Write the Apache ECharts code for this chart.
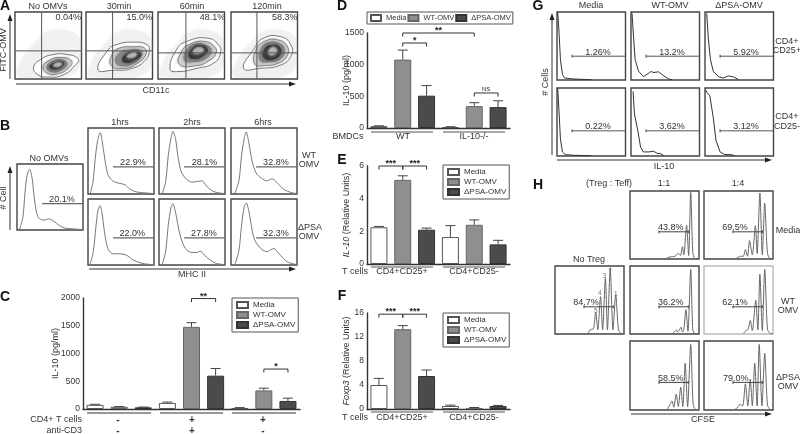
<!DOCTYPE html>
<html><head><meta charset="utf-8"><style>html,body{margin:0;padding:0;background:#fff}#c{width:800px;height:434px}</style>
<script src="https://cdn.jsdelivr.net/npm/echarts@6/dist/echarts.min.js"></script></head>
<body><div id="c"></div><script>
// ---------- bar data ----------
const seriesNames=['Media','WT-OMV','ΔPSA-OMV'];
const cCats=['a1','a2','a3','b1','b2','b3','c1','c2','c3'];
const cVals=[75,40,30,110,1480,600,15,335,145];
const cErr=[85,45,35,125,1555,730,25,375,195];
const dCats=['m1','w1','p1','m2','w2','p2'];
const dVals=[30,1080,510,15,345,330];
const dErr=[35,1230,670,20,400,430];
const eVals=[2.25,5.15,2.1,1.65,2.4,1.2];
const eErr=[2.3,5.4,2.2,2.35,2.7,1.45];
const fVals=[4.0,13.3,5.5,0.5,0.15,0.5];
const fErr=[5.1,13.9,6.5,0.65,0.25,0.6];
// ---------- histograms, panel B ----------
const bNone=[[4,1],[9,20],[12,55],[15,82],[19,92],[23,78],[26,50],[30,25],[34,17],[42,15],[48,17],[56,13],[64,7],[72,3],[82,2],[100,.5]];
const b1a=[[3.5,1],[7.5,18],[11,54],[14.6,81],[18.6,93],[21.6,79],[24.6,59],[29.6,31],[36,21],[44,17],[56,14],[64,7],[74,3],[89,1.5],[100,.5]];
const b2a=[[5,1],[10,18],[14,58],[18,84],[21,95],[25,84],[29,55],[34,33],[42,22],[50,18],[58,19],[65,20],[72,12],[82,4],[92,1.5],[100,.5]];
const b6a=[[6,1],[12,20],[16,58],[20,84],[23,94],[27,78],[32,50],[38,32],[46,24],[54,20],[62,23],[70,17],[80,7],[92,2],[100,.5]];
const b1b=[[3,1],[8,20],[12,58],[15,82],[18,90],[21,80],[25,50],[30,25],[38,17],[48,17],[58,15],[68,8],[80,3],[92,1],[100,.5]];
const b2b=[[5,1],[10,20],[14,60],[18,86],[21,93],[25,80],[32,45],[40,25],[50,19],[58,19],[62,21],[72,12],[85,3],[100,.5]];
const b6b=[[6,1],[12,22],[16,60],[20,88],[23,94],[27,82],[35,40],[45,25],[55,20],[60,23],[65,25],[72,18],[85,5],[100,.5]];
// ---------- histograms, panel G ----------
const gMediaA=[[1,100],[3,70],[5,30],[8,8],[11,3],[23,1.5],[50,.5]];
const gWtA=[[1.5,98],[4,59],[6,30],[11,13],[18,5],[26,10],[29,12.5],[33,11],[40,12],[48,6],[55,1.5],[60,.5]];
const gPsaA=[[2.5,98],[5,59],[8,30],[12,13],[20,4.5],[27,3],[34,6],[42,4.5],[49,.5]];
const gMediaB=[[1,100],[3,65],[5,25],[8,6],[12,2],[25,1],[50,.5]];
const gWtB=[[3,95],[5,62],[7.5,60],[10,37],[14,13],[18,6],[26,6],[33,7],[38,4],[43,3.5],[48,.5]];
const gPsaB=[[1,97],[3,93],[7,89],[12,57],[16,23],[22,6],[29,2],[39,2],[44,0]];
// ---------- histograms, panel H ----------
const hNone=[[48,1],[51,6],[54,7],[56,8],[59,32],[62,6],[66,55],[69,6],[73,82],[76,6],[80,97],[84,6],[88,58],[92,6],[96,.8],[100,.3]];
const hM1=[[53,1],[58,3],[65,4],[70,8],[73,5],[76,18],[78,6],[82,50],[85,5],[88,98],[91,10],[94,1],[100,.5]];
const hM4=[[47,1],[53,4],[57,4],[60,14],[63,4],[66,27],[70,6],[74.5,49],[77,8],[81,97],[84.5,6],[88,82],[92,8],[96,.5],[100,.3]];
const hW1=[[62,1],[65,4],[67,6],[69,3],[71,5],[74,10],[76,3],[78,6],[81,36],[84,4],[88,95],[91,6],[94,.8],[100,.3]];
const hW4=[[57,1],[61,5],[64,7],[67,20],[70,5],[75,50],[78,6],[81,88],[84.5,5],[88,95],[92,7],[96,.8],[100,.3]];
const hP1=[[54,1],[58,8],[61,13],[63.5,4],[67,23],[70,5],[73.5,33],[76.5,5],[80,68],[83.5,5],[88,95],[91.5,8],[95,.8],[100,.3]];
const hP4=[[45,1],[49,4],[52,8],[56,6],[60,38],[63.5,6],[67,45],[70,6],[73.5,68],[77,6],[80,95],[84,6],[88,82],[92,7],[96,.8],[100,.3]];
// ---------- contour rings, panel A ----------
const a1Rings=[[[28,18],[40,30],[55,36],[75,37],[95,30],[90,20],[72,6],[50,3],[35,6]],[[42,18],[52,28],[68,32],[85,27],[80,16],[65,8],[50,8]],[[48,18],[58,27],[72,28],[78,22],[68,13],[55,11]],[[52,18],[62,25],[72,25],[72,20],[62,15]],[[58,20],[64,24],[70,23],[66,19]]];
const a2Rings=[[[18,14],[33,43],[45,51],[70,55],[92,51],[95,41],[90,29],[70,16],[40,13]],[[38,20],[40,38],[50,46],[70,48],[88,46],[90,36],[78,24],[60,16]],[[45,25],[50,38],[65,43],[82,42],[82,33],[70,23],[55,20]],[[55,28],[62,38],[75,40],[82,36],[72,28],[62,25]],[[62,33],[68,38],[76,38],[72,33]]];
const a3Rings=[[[18,15],[28,44],[43,56],[74,61],[91,51],[94,39],[84,24],[59,16],[28,11]],[[32,22],[36,42],[48,52],[70,56],[85,48],[87,38],[76,27],[58,20]],[[40,28],[44,44],[56,52],[72,50],[80,42],[70,30],[52,26]],[[47,34],[52,46],[64,50],[74,44],[66,34],[54,31]],[[53,40],[58,46],[66,46],[68,42],[60,38]]];
const a4Rings=[[[19,16],[34,44],[49,61],[75,63],[90,51],[90,34],[75,21],[44,16]],[[36,22],[37,42],[50,56],[72,58],[85,48],[84,34],[72,24],[50,20]],[[44,28],[46,46],[56,54],[72,53],[80,44],[74,30],[56,26]],[[50,32],[52,46],[62,50],[72,48],[74,38],[64,30]],[[57,38],[60,46],[67,46],[68,40],[62,36]]];
const ringHaze=[[5,3],[10,30],[30,55],[50,72],[80,72],[99,58],[99,25],[85,6],[50,1]];

// ---------- builders ----------
const FONT='"Liberation Sans",Arial,sans-serif', INK='#333';
const grid=[],xAxis=[],yAxis=[],series=[],legend=[],graphic=[];
function addGrid(rect,xa,ya,bordered,bc){
  const i=grid.length;
  grid.push(Object.assign({containLabel:false,show:!!bordered,borderColor:bc||'#444',borderWidth:bordered?1.4:0,backgroundColor:'#fff'},rect));
  xAxis.push(Object.assign({gridIndex:i},xa));yAxis.push(Object.assign({gridIndex:i},ya));return i;
}
const hiddenV={type:'value',min:0,max:100,show:false};
function flowPanel(rect,opt){
  const i=addGrid(rect,hiddenV,hiddenV,true,opt.border);
  if(opt.rings)ringSeries(i,opt.rings);
  if(opt.curve)series.push({type:'line',xAxisIndex:i,yAxisIndex:i,data:opt.curve,showSymbol:false,smooth:opt.smooth||0,
    lineStyle:{color:opt.color||'#777',width:opt.lw||1},silent:true,z:3});
  if(opt.quad){const q=opt.quad;
    series.push({type:'line',xAxisIndex:i,yAxisIndex:i,data:[[q[0],0],[q[0],100]],showSymbol:false,lineStyle:{color:'#555',width:1},silent:true,z:4});
    series.push({type:'line',xAxisIndex:i,yAxisIndex:i,data:[[0,q[1]],[100,q[1]]],showSymbol:false,lineStyle:{color:'#555',width:1},silent:true,z:4});}
  const notes=(opt.notes||[]).concat(opt.label?[[opt.label[1],opt.label[2],opt.label[0],opt.labelColor]]:[]);
  if(opt.gate||notes.length){
    const g=opt.gate;
    series.push({type:'custom',xAxisIndex:i,yAxisIndex:i,data:[[0,0]],silent:true,z:5,coordinateSystem:'cartesian2d',
      renderItem(p,api){
        const ch=[];
        if(g){const a=api.coord([g[0],g[2]]),b=api.coord([g[1],g[2]]);
          ch.push({type:'line',shape:{x1:a[0],y1:a[1],x2:b[0],y2:b[1]},style:{stroke:opt.gateColor||'#666',lineWidth:opt.gateWidth||1.2}});
          if(opt.gateTicks){[a,b].forEach(e=>ch.push({type:'line',shape:{x1:e[0],y1:e[1]-1.5,x2:e[0],y2:e[1]+1.5},style:{stroke:'#444',lineWidth:1}}));}
          if(opt.gateText){const t=api.coord([opt.gateText[1],g[2]]);
            ch.push({type:'text',style:{text:opt.gateText[0],x:t[0],y:t[1]-4,align:'center',verticalAlign:'middle',font:'9px '+FONT,fill:INK}});}
        }
        notes.forEach(n=>{const t=api.coord([n[0],n[1]]);
          ch.push({type:'text',style:{text:n[2],x:t[0],y:t[1],align:'center',verticalAlign:'middle',font:n[3]?('6.5px '+FONT):('9px '+FONT),fill:n[3]||INK}});});
        return {type:'group',children:ch};
      }});
  }
  return i;
}
function ringSeries(i,rings){
  const fills=['#fff','#cfcfcf','#8a8a8a','#3a3a3a','#b4b4b4'];
  const strokes=['#666','#777','#777','#333','#999'];
  const draw=(ring,style,z)=>series.push({type:'custom',xAxisIndex:i,yAxisIndex:i,data:ring,clip:true,silent:true,z,
    renderItem(p,api){ if(p.dataIndex!==0)return null;
      return {type:'polygon',shape:{points:ring.map(r=>api.coord(r)),smooth:0.5},style};}});
  draw(ringHaze,{fill:'rgba(170,170,170,.13)',shadowBlur:6,shadowColor:'rgba(150,150,150,.3)'},1);
  rings.forEach((r,k)=>draw(r,{fill:fills[k],stroke:strokes[k],lineWidth:.9,shadowBlur:k>0?3:0,shadowColor:fills[k]},2+k*0.1));
}
function barPanel(rect,cats,vals,errs,ya,brackets,nameTxt,gap){
  const i=addGrid(rect,{type:'category',data:cats,axisTick:{show:false},axisLabel:{show:false},
      axisLine:{lineStyle:{color:'#333',width:1.4}}},
    Object.assign({type:'value',min:0,axisTick:{length:3,lineStyle:{color:'#333',width:1.2}},
      axisLine:{show:true,lineStyle:{color:'#333',width:1.4}},splitLine:{show:false},
      axisLabel:{fontFamily:FONT,fontSize:8.5,color:INK,margin:3,formatter:v=>String(v)},
      name:nameTxt,nameLocation:'middle',nameRotate:90,nameGap:gap,nameMoveOverlap:false,
      nameTextStyle:{fontFamily:FONT,fontSize:9,color:INK,rich:{i:{fontStyle:'italic',fontFamily:FONT,fontSize:9,color:INK},n:{fontFamily:FONT,fontSize:9,color:INK}}}},ya));
  const colors=[['#fff','#555'],['#8f8f8f','#666'],['#4b4b4b','#333']];
  seriesNames.forEach((n,k)=>series.push({type:'bar',name:n,xAxisIndex:i,yAxisIndex:i,stack:'s'+i,barWidth:Math.round(rect.width/cats.length*0.7),
    data:vals.map((v,j)=>j%3===k?v:null),itemStyle:{color:colors[k][0],borderColor:colors[k][1],borderWidth:1},z:3,silent:true}));
  series.push({type:'custom',xAxisIndex:i,yAxisIndex:i,silent:true,z:2,data:vals.map((v,j)=>[j,v,errs[j]]),
    encode:{x:0,y:[1,2]},
    renderItem(p,api){
      const a=api.coord([api.value(0),api.value(1)]),b=api.coord([api.value(0),api.value(2)]);
      return {type:'group',children:[
        {type:'line',shape:{x1:a[0],y1:a[1],x2:b[0],y2:b[1]},style:{stroke:'#444',lineWidth:1}},
        {type:'line',shape:{x1:b[0]-5,y1:b[1],x2:b[0]+5,y2:b[1]},style:{stroke:'#444',lineWidth:1}}]};
    }});
  series.push({type:'custom',xAxisIndex:i,yAxisIndex:i,silent:true,z:4,clip:false,data:brackets.map(b=>[b[0],b[1],b[2]]),
    encode:{x:[0,1],y:2},
    renderItem(p,api){
      const a=api.coord([api.value(0),api.value(2)]),b=api.coord([api.value(1),api.value(2)]);
      const txt=brackets[p.dataIndex][3];const small=txt==='NS';
      return {type:'group',children:[
        {type:'polyline',shape:{points:[[a[0],a[1]+3.5],[a[0],a[1]],[b[0],b[1]],[b[0],b[1]+3.5]]},style:{fill:'none',stroke:'#333',lineWidth:1}},
        {type:'text',style:{text:txt,x:(a[0]+b[0])/2,y:small?a[1]-4:a[1]-2.5,align:'center',verticalAlign:'middle',
          font:(small?'6px ':'bold 9px ')+FONT,fill:'#222'}}]};
    }});
  return i;
}
function addLegend(left,top,orient,extra){
  legend.push(Object.assign({left,top,orient,data:seriesNames.map(n=>({name:n,icon:'rect'})),selectedMode:false,
    itemWidth:11,itemHeight:6,itemGap:2,padding:[3,3,3,4],borderColor:'#555',borderWidth:1,backgroundColor:'#fff',
    textStyle:{fontFamily:FONT,fontSize:8,color:INK}},extra||{}));
}
function T(x,y,text,o){o=o||{};
  graphic.push({type:'text',x,y,rotation:o.rot||0,silent:true,z:20,style:{text,x:0,y:0,align:o.align||'center',verticalAlign:'middle',
    font:(o.bold?'bold ':'')+(o.size||9)+'px '+FONT,fill:o.color||INK}});}
function L(x1,y1,x2,y2,c,w){graphic.push({type:'line',silent:true,z:20,shape:{x1,y1,x2,y2},style:{stroke:c||'#555',lineWidth:w||1}});}
function arrowR(x1,x2,y){L(x1,y,x2-4,y,'#333',1);graphic.push({type:'polygon',silent:true,z:20,shape:{points:[[x2,y],[x2-7,y-2.5],[x2-7,y+2.5]]},style:{fill:'#222'}});}
function arrowU(x,y1,y2){L(x,y1,x,y2+4,'#333',1);graphic.push({type:'polygon',silent:true,z:20,shape:{points:[[x,y2],[x-2.5,y2+7],[x+2.5,y2+7]]},style:{fill:'#222'}});}

// ---------- panel A ----------
[[15,a1Rings,[40,42],'0.04%',80],[86,a2Rings,[40,42],'15.0%',80],[158,a3Rings,[42,39],'48.1%',82],[231,a4Rings,[39,39],'58.3%',81]]
 .forEach(p=>flowPanel({left:p[0],top:12,width:66.5,height:67},{rings:p[1],quad:p[2],label:[p[3],p[4],92]}));
T(48,7,'No OMVs');T(119,7,'30min');T(192,7,'60min');T(267,7,'120min');
arrowU(10,79,14);T(4,50,'FITC-OMV',{rot:Math.PI/2});arrowR(16,296,84);T(156,91,'CD11c');
// ---------- panel B ----------
const bOpt=(c,t,lx,gy)=>({curve:c,smooth:.3,color:'#777',gate:[38,100,gy],gateColor:'#666',gateText:[t,lx]});
flowPanel({left:17,top:164,width:66,height:66},bOpt(bNone,'20.1%',68,40));
[[88,b1a,'22.9%',68],[159,b2a,'28.1%',69],[231,b6a,'32.8%',68]].forEach(p=>flowPanel({left:p[0],top:128,width:66,height:66},bOpt(p[1],p[2],p[3],41)));
[[88,b1b,'22.0%',67],[159,b2b,'27.8%',68],[231,b6b,'32.3%',68]].forEach(p=>flowPanel({left:p[0],top:199,width:66,height:66},bOpt(p[1],p[2],p[3],41)));
T(120,123,'1hrs');T(192,123,'2hrs');T(263,123,'6hrs');T(49,159,'No OMVs');
T(309,156,'WT');T(309,165,'OMV');T(310,228,'ΔPSA');T(309,237,'OMV');
T(4,198,'# Cell',{rot:Math.PI/2});arrowU(10,230,166);arrowR(89,296,269);T(192,275,'MHC II');
// ---------- panel C ----------
barPanel({left:83,top:298,width:217,height:111},cCats,cVals,cErr,{max:2000,interval:500},[[4,5,1990,'**'],[7,8,720,'*']],'IL-10 (pg/ml)',23);
addLegend(232,298,'vertical');
[[87,151],[160,223],[232,296]].forEach(a=>L(a[0],413,a[1],413,'#999',2));
T(82,420,'CD4+ T cells',{align:'right'});T(82,431,'anti-CD3',{align:'right'});
[[118,'-','-'],[192,'+','+'],[263,'+','-']].forEach(r=>{T(r[0],420,r[1],{size:10,bold:true});T(r[0],431,r[2],{size:10,bold:true});});
// ---------- panel D ----------
barPanel({left:367,top:33,width:143,height:95},dCats,dVals,dErr,{max:1500,interval:500},[[1,4,1500,'**'],[1,2,1342,'*'],[4,5,553,'NS']],'IL-10 (pg/ml)',16);
addLegend(367,12,'horizontal',{itemWidth:10,itemHeight:6,itemGap:1,padding:[2,2,2,3],textStyle:{fontFamily:FONT,fontSize:7.5,color:INK}});
L(371,132,433,132);L(443,132,505,132);T(348,137,'BMDCs');T(403,137,'WT');T(474,137,'IL-10-/-');
// ---------- panel E ----------
barPanel({left:367,top:166,width:143,height:98},dCats,eVals,eErr,{max:6,interval:2},[[0,1,6,'***'],[1,2,6,'***']],'{i|IL-10} {n|(Relative Units)}',16);
addLegend(443,165,'vertical');
L(371,267,433,267);L(443,267,505,267);T(355,272,'T cells');T(402,272,'CD4+CD25+');T(474,272,'CD4+CD25-');
// ---------- panel F ----------
barPanel({left:367,top:313,width:143,height:96},dCats,fVals,fErr,{max:16,interval:4},[[0,1,15.8,'***'],[1,2,15.8,'***']],'{i|Foxp3} {n|(Relative Units)}',16);
addLegend(443,313,'vertical');
L(371,412,433,412);L(443,412,505,412);T(355,418,'T cells');T(402,418,'CD4+CD25+');T(474,418,'CD4+CD25-');
// ---------- panel G ----------
const gOpt=(c,t,gy)=>({curve:c,color:'#333',gate:[22,100,gy],gateColor:'#555',gateWidth:1,gateTicks:true,gateText:[t,60]});
[[557,gMediaA,'1.26%'],[631,gWtA,'13.2%'],[705,gPsaA,'5.92%']].forEach(p=>flowPanel({left:p[0],top:12,width:68.5,height:68},gOpt(p[1],p[2],35)));
[[557,gMediaB,'0.22%'],[631,gWtB,'3.62%'],[705,gPsaB,'3.12%']].forEach(p=>flowPanel({left:p[0],top:88,width:68.5,height:68},gOpt(p[1],p[2],37)));
T(591,6,'Media');T(670,6,'WT-OMV');T(739,6,'ΔPSA-OMV');
T(787,42,'CD4+');T(787,51,'CD25+');T(787,117,'CD4+');T(787,127,'CD25-');
T(546,82,'# Cells',{rot:Math.PI/2});arrowU(552,155,13);arrowR(557,772,160);T(664,167,'IL-10');
// ---------- panel H ----------
const hOpt=(c,t,lx,hi)=>({curve:c,smooth:.25,color:'#666',gate:[42,84.5,40],gateColor:'#444',gateWidth:1,gateTicks:true,gateText:[t,lx]});
flowPanel({left:555,top:266,width:69,height:68},Object.assign(hOpt(hNone,'84.7%',45),{notes:[[59,34,'5','#777'],[65,60,'4','#777'],[72,85,'3','#777'],[80,97,'2','#777'],[88,59,'1','#777']]}));
flowPanel({left:630,top:191,width:69,height:68},hOpt(hM1,'43.8%',59));
flowPanel({left:704,top:191,width:69,height:68},hOpt(hM4,'69.5%',45));
flowPanel({left:630,top:266,width:69,height:68},hOpt(hW1,'36.2%',59));
flowPanel({left:704,top:266,width:69,height:68},Object.assign(hOpt(hW4,'62.1%',45),{border:'#bbb'}));
flowPanel({left:630,top:341,width:69,height:69},hOpt(hP1,'58.5%',59));
flowPanel({left:704,top:341,width:69,height:69},hOpt(hP4,'79.0%',46));
T(609,184,'(Treg : Teff)');T(664,184,'1:1');T(738,184,'1:4');T(589,260,'No Treg');
T(788,231,'Media');T(788,302,'WT');T(788,311,'OMV');T(788,378,'ΔPSA');T(788,387,'OMV');
arrowR(631,772,414);T(703,420,'CFSE');
// ---------- panel letters ----------
[['A',5,6],['B',5,126],['C',5,297],['D',342,6],['E',342,160],['F',342,296],['G',538,6],['H',538,185]]
 .forEach(p=>T(p[1],p[2],p[0],{bold:true,size:14,color:'#111'}));

const chart=echarts.init(document.getElementById('c'),null,{width:800,height:434});
chart.setOption({animation:false,backgroundColor:'#fff',textStyle:{fontFamily:FONT},tooltip:{show:false},grid,xAxis,yAxis,legend,series,graphic:{elements:graphic}});
</script></body></html>
